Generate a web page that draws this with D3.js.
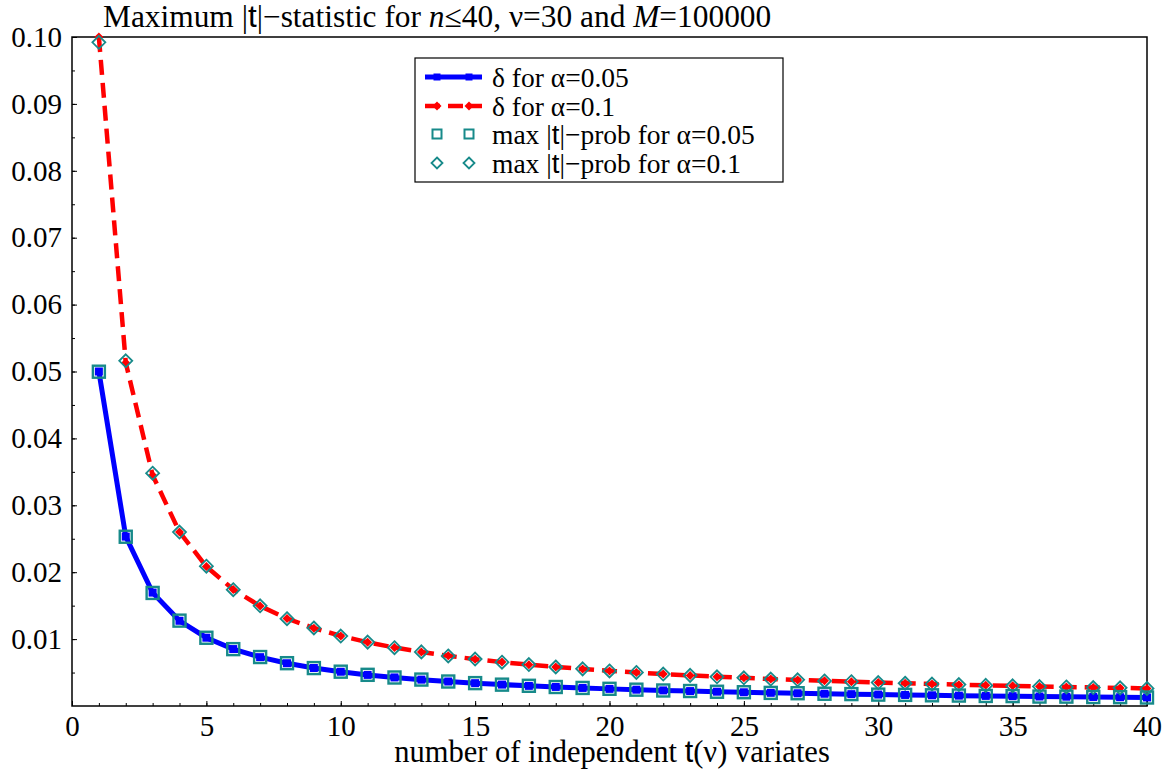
<!DOCTYPE html>
<html><head><meta charset="utf-8">
<script src="https://cdn.jsdelivr.net/npm/d3@7"></script>
<style>body{margin:0;background:#fff}svg{display:block}</style>
</head><body><svg id="c" width="1166" height="770"></svg>
<script>
const nVals = [1,2,3,4,5,6,7,8,9,10,11,12,13,14,15,16,17,18,19,20,21,22,23,24,25,26,27,28,29,30,31,32,33,34,35,36,37,38,39,40];
const delta05 = [0.05,0.02532,0.01695,0.01274,0.01021,0.00851,0.00730,0.00639,0.00568,0.00512,0.00465,0.00427,0.00394,0.00366,0.00341,0.00320,0.00301,0.00285,0.00270,0.00256,0.00244,0.00233,0.00223,0.00214,0.00205,0.00197,0.00190,0.00183,0.00177,0.00171,0.00165,0.00160,0.00155,0.00151,0.00147,0.00142,0.00139,0.00135,0.00131,0.00128];
const delta10 = [0.1,0.05132,0.03451,0.02600,0.02085,0.01741,0.01494,0.01308,0.01164,0.01048,0.00953,0.00874,0.00807,0.00750,0.00700,0.00656,0.00618,0.00584,0.00553,0.00525,0.00501,0.00478,0.00457,0.00438,0.00421,0.00404,0.00390,0.00376,0.00363,0.00351,0.00339,0.00329,0.00319,0.00309,0.00301,0.00292,0.00284,0.00277,0.00270,0.00263];
const prob05 = [0.04997,0.02530,0.01690,0.01276,0.01020,0.00850,0.00732,0.00640,0.00567,0.00513,0.00466,0.00426,0.00395,0.00366,0.00342,0.00319,0.00302,0.00284,0.00270,0.00257,0.00244,0.00232,0.00224,0.00213,0.00206,0.00196,0.00191,0.00183,0.00178,0.00170,0.00166,0.00160,0.00156,0.00150,0.00148,0.00141,0.00140,0.00134,0.00132,0.00127];
const prob10 = [0.0992,0.0516,0.0348,0.02600,0.02090,0.01738,0.01497,0.01305,0.01166,0.01046,0.00955,0.00872,0.00809,0.00748,0.00702,0.00655,0.00620,0.00583,0.00555,0.00524,0.00502,0.00477,0.00458,0.00437,0.00422,0.00403,0.00391,0.00375,0.00364,0.00350,0.00340,0.00328,0.00320,0.00308,0.00302,0.00291,0.00285,0.00276,0.00271,0.00262];
const xTicks = [0,5,10,15,20,25,30,35,40];
const yTicks = [0.01,0.02,0.03,0.04,0.05,0.06,0.07,0.08,0.09,0.10];
const legendLabels = [["δ for α=0.05"],["δ for α=0.1"],["max |","t","|−prob for α=0.05"],["max |","t","|−prob for α=0.1"]];

const SERIF = "'Liberation Serif', 'Tinos', 'Times New Roman', serif";
const SANS = "'Liberation Sans', Arial, sans-serif";
const svg = d3.select("#c");
const L=72, R=1147, T=37, B=706;
const x = d3.scaleLinear().domain([0,40]).range([L,R]);
const y = d3.scaleLinear().domain([0,0.10]).range([B,T]);
const blue="#0000ff", red="#ff0000", teal="#178a8a";

svg.append("rect").attr("x",L).attr("y",T).attr("width",R-L).attr("height",B-T)
  .attr("fill","none").attr("stroke","#000").attr("stroke-width",1.5);

const xg = svg.append("g").attr("transform",`translate(0,${B})`);
xg.call(d3.axisBottom(x).tickValues(d3.range(0,41,1)).tickSize(-3).tickFormat(""));
xg.select(".domain").remove();
xg.selectAll(".tick line").attr("stroke","#000");
const xg2 = svg.append("g").attr("transform",`translate(0,${B})`);
xg2.call(d3.axisBottom(x).tickValues(xTicks).tickSize(-5).tickPadding(0).tickFormat(d3.format("d")));
xg2.select(".domain").remove();
xg2.selectAll(".tick line").attr("stroke","#000");
xg2.selectAll("text").attr("dy",null).attr("y",30).style("font-family",SERIF).style("font-size","29px").attr("fill","#000");

const yg = svg.append("g").attr("transform",`translate(${L},0)`);
yg.call(d3.axisLeft(y).tickValues(d3.range(0.005,0.1001,0.005)).tickSize(-3).tickFormat(""));
yg.select(".domain").remove();
yg.selectAll(".tick line").attr("stroke","#000");
const yg2 = svg.append("g").attr("transform",`translate(${L},0)`);
yg2.call(d3.axisLeft(y).tickValues(yTicks).tickSize(-5).tickPadding(10).tickFormat(d3.format(".2f")));
yg2.select(".domain").remove();
yg2.selectAll(".tick line").attr("stroke","#000");
yg2.selectAll("text").style("font-family",SERIF).style("font-size","29px").attr("fill","#000");

const line = d3.line().x((d,i)=>x(nVals[i])).y(d=>y(d));
svg.append("path").attr("d",line(delta05)).attr("fill","none").attr("stroke",blue).attr("stroke-width",5);
svg.append("path").attr("d",line(delta10)).attr("fill","none").attr("stroke",red).attr("stroke-width",4.5).attr("stroke-dasharray","15,8");

const dia = (s)=>`M0,${-s}L${s},0L0,${s}L${-s},0Z`;
svg.append("g").selectAll("rect").data(delta05).join("rect")
  .attr("x",(d,i)=>x(nVals[i])-4).attr("y",d=>y(d)-4).attr("width",8).attr("height",8).attr("fill",blue);
svg.append("g").selectAll("path").data(delta10).join("path")
  .attr("transform",(d,i)=>`translate(${x(nVals[i])},${y(d)})`).attr("d",dia(4.5)).attr("fill",red);
svg.append("g").selectAll("rect").data(prob05).join("rect")
  .attr("x",(d,i)=>x(nVals[i])-6).attr("y",d=>y(d)-6).attr("width",12).attr("height",12)
  .attr("fill","none").attr("stroke",teal).attr("stroke-width",2.4);
svg.append("g").selectAll("path").data(prob10).join("path")
  .attr("transform",(d,i)=>`translate(${x(nVals[i])},${y(d)})`).attr("d",dia(6.5))
  .attr("fill","none").attr("stroke",teal).attr("stroke-width",1.8);

const t = svg.append("text").attr("x",103).attr("y",27).style("font-family",SERIF).style("font-size","31.4px");
t.append("tspan").text("Maximum |");
t.append("tspan").style("font-family",SANS).text("t");
t.append("tspan").text("|−statistic for ");
t.append("tspan").style("font-style","italic").text("n");
t.append("tspan").text("≤40, ν=30 and ");
t.append("tspan").style("font-style","italic").text("M");
t.append("tspan").text("=100000");

const xt = svg.append("text").attr("x",612).attr("y",762).attr("text-anchor","middle").style("font-family",SERIF).style("font-size","30.5px");
xt.append("tspan").text("number of independent ");
xt.append("tspan").style("font-family",SANS).text("t");
xt.append("tspan").text("(ν) variates");

const lg = svg.append("g");
lg.append("rect").attr("x",415).attr("y",58).attr("width",368).attr("height",124)
  .attr("fill","#fff").attr("stroke","#000").attr("stroke-width",1.2);
const rows=[77,106,134,163];
const x0=425,x1=482;
lg.append("line").attr("x1",x0).attr("x2",x1).attr("y1",rows[0]).attr("y2",rows[0]).attr("stroke",blue).attr("stroke-width",5);
[437,469].forEach(px=>lg.append("rect").attr("x",px-3.5).attr("y",rows[0]-3.5).attr("width",7).attr("height",7).attr("fill",blue));
lg.append("line").attr("x1",x0).attr("x2",x1).attr("y1",rows[1]).attr("y2",rows[1]).attr("stroke",red).attr("stroke-width",4.5).attr("stroke-dasharray","15,8");
[437,469].forEach(px=>lg.append("path").attr("transform",`translate(${px},${rows[1]})`).attr("d",dia(4.5)).attr("fill",red));
[437,469].forEach(px=>lg.append("rect").attr("x",px-4.5).attr("y",rows[2]-4.5).attr("width",9).attr("height",9).attr("fill","none").attr("stroke",teal).attr("stroke-width",2));
[437,469].forEach(px=>lg.append("path").attr("transform",`translate(${px},${rows[3]})`).attr("d",dia(5.5)).attr("fill","none").attr("stroke",teal).attr("stroke-width",1.8));
legendLabels.forEach((parts,i)=>{
  const tx = lg.append("text").attr("x",492).attr("y",rows[i]).attr("dy","0.35em").style("font-family",SERIF).style("font-size","27.5px");
  parts.forEach((p,j)=>{ const s=tx.append("tspan").text(p); if(parts.length===3&&j===1) s.style("font-family",SANS); });
});
</script></body></html>
